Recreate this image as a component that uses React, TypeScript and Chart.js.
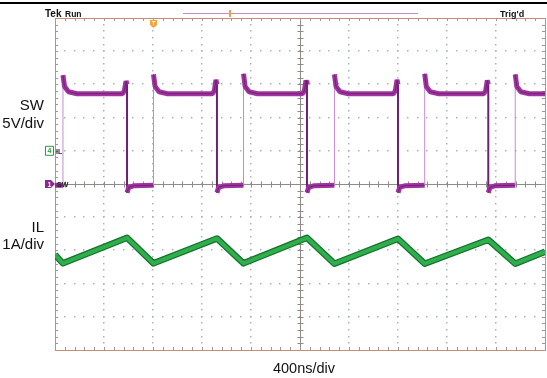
import React, { useEffect, useRef } from 'react';
import { Chart, registerables } from 'chart.js';

Chart.register(...registerables);

// Time axis: 400 ns/div, 10 divisions, centred on trigger (ns)
const timeMin = -2000;
const timeMax = 2000;

// SW (channel 1), 5 V/div, ground at screen centre
const swTimes = [
  -2000,
  -1935, -1935, -1922, -1890, -1820, -1450, -1434, -1420, -1412, -1412, -1398, -1352,
  -1196, -1196, -1183, -1151, -1081, -716, -700, -686, -678, -678, -664, -618,
  -461, -461, -448, -416, -346, 19, 35, 49, 57, 57, 71, 117,
  281, 281, 294, 326, 396, 762, 778, 792, 800, 800, 814, 860,
  1018, 1018, 1031, 1063, 1133, 1499, 1515, 1529, 1537, 1537, 1551, 1597,
  1757, 1757, 1770, 1802, 1872, 2000,
];
const swVolts = [
  -0.2,
  -0.2, 16.4, 14.7, 13.9, 13.6, 13.6, 14.0, 15.5, 15.0, -1.3, -0.5, -0.25,
  -0.2, 16.5, 14.7, 13.9, 13.6, 13.6, 14.0, 15.7, 15.0, -1.3, -0.5, -0.25,
  -0.2, 16.6, 14.7, 13.9, 13.6, 13.6, 14.0, 15.6, 15.0, -1.3, -0.5, -0.25,
  -0.2, 16.5, 14.7, 13.9, 13.6, 13.6, 14.0, 15.7, 15.0, -1.3, -0.5, -0.25,
  -0.2, 16.6, 14.7, 13.9, 13.6, 13.6, 14.0, 15.6, 15.0, -1.3, -0.5, -0.25,
  -0.2, 16.5, 14.7, 13.9, 13.6, 13.6,
];

// IL (channel 4), 1 A/div, ground marker one division above centre
const ilTimes = [-2000, -1935, -1412, -1196, -678, -461, 57, 281, 800, 1018, 1537, 1757, 2000];
const ilAmps = [-3.13, -3.39, -2.62, -3.39, -2.64, -3.39, -2.62, -3.40, -2.65, -3.40, -2.68, -3.40, -3.04];

const textFont = '"Liberation Sans", Arial, sans-serif';

const scopePlugin = {
  id: 'scope',
  beforeDatasetsDraw(chart: any) {
    const ctx = chart.ctx as CanvasRenderingContext2D;
    const { left, right, top, bottom } = chart.chartArea;
    const dx = (right - left) / 10;
    const dy = (bottom - top) / 10;
    const cx = left + 5 * dx;
    const cy = top + 5 * dy;
    ctx.save();
    // dotted grid
    ctx.fillStyle = '#aab3bb';
    for (let j = 1; j <= 9; j++) {
      if (j === 5) continue;
      const y = top + j * dy;
      for (let k = 1; k < 50; k++) {
        const x = left + (k * dx) / 5;
        ctx.fillRect(Math.round(x) - 1, Math.round(y) - 1, 1.5, 1.5);
      }
    }
    for (let i = 1; i <= 9; i++) {
      if (i === 5) continue;
      const x = left + i * dx;
      for (let k = 1; k < 50; k++) {
        const y = top + (k * dy) / 5;
        ctx.fillRect(Math.round(x) - 1, Math.round(y) - 1, 1.5, 1.5);
      }
    }
    // centre cross with minor ticks
    ctx.strokeStyle = '#8f8a88';
    ctx.lineWidth = 1;
    ctx.beginPath();
    ctx.moveTo(left, Math.round(cy) + 0.5);
    ctx.lineTo(right, Math.round(cy) + 0.5);
    ctx.moveTo(Math.round(cx) + 0.5, top);
    ctx.lineTo(Math.round(cx) + 0.5, bottom);
    for (let k = 1; k < 50; k++) {
      const x = Math.round(left + (k * dx) / 5) + 0.5;
      ctx.moveTo(x, cy - 2.5);
      ctx.lineTo(x, cy + 3.5);
      const y = Math.round(top + (k * dy) / 5) + 0.5;
      ctx.moveTo(cx - 2.5, y);
      ctx.lineTo(cx + 3.5, y);
    }
    ctx.stroke();
    // border ticks
    ctx.strokeStyle = '#9a9a9a';
    ctx.beginPath();
    for (let k = 1; k < 50; k++) {
      const x = Math.round(left + (k * dx) / 5) + 0.5;
      ctx.moveTo(x, top);
      ctx.lineTo(x, top + 3);
      ctx.moveTo(x, bottom);
      ctx.lineTo(x, bottom - 3);
      const y = Math.round(top + (k * dy) / 5) + 0.5;
      ctx.moveTo(left, y);
      ctx.lineTo(left + 3, y);
      ctx.moveTo(right, y);
      ctx.lineTo(right - 3, y);
    }
    ctx.stroke();
    // border
    ctx.strokeStyle = '#c98b76';
    ctx.strokeRect(Math.round(left) + 0.5, Math.round(top) + 0.5, Math.round(right - left), Math.round(bottom - top));
    ctx.restore();
  },
  afterDraw(chart: any) {
    const ctx = chart.ctx as CanvasRenderingContext2D;
    const { top, bottom } = chart.chartArea;
    const dy = (bottom - top) / 10;
    const cy = top + 5 * dy;
    ctx.save();
    // top rule
    ctx.fillStyle = '#000';
    ctx.fillRect(0, 2, chart.width, 2);
    // header
    ctx.textBaseline = 'alphabetic';
    ctx.textAlign = 'left';
    ctx.fillStyle = '#111';
    ctx.font = `bold 10px ${textFont}`;
    ctx.fillText('Tek', 45, 17);
    ctx.font = `bold 8.5px ${textFont}`;
    ctx.fillText('Run', 65, 17);
    ctx.font = `bold 9px ${textFont}`;
    ctx.fillText("Trig'd", 500, 17);
    // record view bar
    ctx.strokeStyle = '#c58ac7';
    ctx.lineWidth = 1;
    ctx.beginPath();
    ctx.moveTo(183, 13.5);
    ctx.lineTo(418, 13.5);
    ctx.stroke();
    ctx.fillStyle = '#f0a040';
    ctx.fillRect(229, 10, 2, 7);
    // trigger position marker
    ctx.fillStyle = '#f2a33a';
    ctx.beginPath();
    ctx.moveTo(150, 20);
    ctx.lineTo(157, 20);
    ctx.lineTo(157, 25);
    ctx.lineTo(153.5, 28);
    ctx.lineTo(150, 25);
    ctx.closePath();
    ctx.fill();
    ctx.fillStyle = '#fff';
    ctx.font = `bold 6px ${textFont}`;
    ctx.textAlign = 'center';
    ctx.fillText('T', 153.5, 25);
    // channel 4 marker
    const y4 = cy - dy;
    ctx.fillStyle = '#fff';
    ctx.strokeStyle = '#2a9a46';
    ctx.lineWidth = 1;
    ctx.beginPath();
    ctx.rect(45.5, y4 - 4.5, 8, 9);
    ctx.fill();
    ctx.stroke();
    ctx.fillStyle = '#2a9a46';
    ctx.font = `bold 7px ${textFont}`;
    ctx.fillText('4', 49.5, y4 + 2.5);
    ctx.fillStyle = '#222';
    ctx.textAlign = 'left';
    ctx.font = `bold 7px ${textFont}`;
    ctx.fillText('IL', 56, y4 + 3);
    // channel 1 marker
    ctx.fillStyle = '#8c2a8a';
    ctx.beginPath();
    ctx.moveTo(45, cy - 4);
    ctx.lineTo(51, cy - 4);
    ctx.lineTo(55, cy);
    ctx.lineTo(51, cy + 4);
    ctx.lineTo(45, cy + 4);
    ctx.closePath();
    ctx.fill();
    ctx.fillStyle = '#fff';
    ctx.textAlign = 'center';
    ctx.fillText('1', 49.5, cy + 2.5);
    ctx.fillStyle = '#222';
    ctx.textAlign = 'left';
    ctx.fillText('SW', 57, cy + 3);
    // side labels
    ctx.fillStyle = '#111';
    ctx.font = `15px ${textFont}`;
    ctx.textAlign = 'right';
    ctx.fillText('SW', 44, 110);
    ctx.fillText('5V/div', 44, 128);
    ctx.fillText('IL', 44, 232);
    ctx.fillText('1A/div', 44, 249);
    ctx.textAlign = 'center';
    ctx.font = `14.5px ${textFont}`;
    ctx.fillText('400ns/div', 304, 373);
    ctx.restore();
  },
};

export default function App() {
  const ref = useRef<HTMLCanvasElement>(null);
  useEffect(() => {
    const swData = swTimes.map((t, i) => ({ x: t, y: swVolts[i] }));
    const ilData = ilTimes.map((t, i) => ({ x: t, y: ilAmps[i] }));
    const isVertical = (c: any) => c.p0.parsed.x === c.p1.parsed.x;
    const isRising = (c: any) => c.p1.parsed.y > c.p0.parsed.y;
    const chart = new Chart(ref.current as HTMLCanvasElement, {
      type: 'line',
      data: {
        datasets: [
          {
            label: 'SW detail',
            data: swData,
            yAxisID: 'ySW',
            borderColor: '#6a1c6c',
            borderWidth: 0.8,
            borderJoinStyle: 'bevel',
            pointRadius: 0,
            order: 0,
            segment: {
              borderColor: (c: any) => (isVertical(c) ? 'rgba(0,0,0,0)' : '#6a1c6c'),
            },
          },
          {
            label: 'SW',
            data: swData,
            yAxisID: 'ySW',
            borderColor: '#a0339f',
            borderWidth: 5,
            borderJoinStyle: 'bevel',
            pointRadius: 0,
            order: 1,
            segment: {
              borderWidth: (c: any) => (isVertical(c) ? (isRising(c) ? 1 : 2) : 5),
              borderColor: (c: any) =>
                isVertical(c) ? (isRising(c) ? '#c48ad6' : '#6e2076') : '#a0339f',
            },
          },
          {
            label: 'IL',
            data: ilData,
            yAxisID: 'yIL',
            borderColor: '#2fae4c',
            borderWidth: 4,
            borderJoinStyle: 'round',
            pointRadius: 0,
            order: 2,
          },
          {
            label: 'IL edge',
            data: ilData,
            yAxisID: 'yIL',
            borderColor: '#16702f',
            borderWidth: 6.5,
            borderJoinStyle: 'round',
            pointRadius: 0,
            order: 3,
          },
        ],
      },
      options: {
        animation: false,
        responsive: false,
        events: [],
        layout: { padding: { left: 55, right: 2, top: 18, bottom: 28 } },
        scales: {
          x: { type: 'linear', min: timeMin, max: timeMax, display: false },
          ySW: { type: 'linear', min: -25, max: 25, display: false },
          yIL: { type: 'linear', min: -6, max: 4, display: false },
        },
        plugins: {
          legend: { display: false },
          tooltip: { enabled: false },
        },
      },
      plugins: [scopePlugin],
    } as any);
    return () => chart.destroy();
  }, []);
  return (
    <div style={{ position: 'fixed', left: 0, top: 0, width: 547, height: 378, background: '#fff' }}>
      <canvas ref={ref} width={547} height={378} style={{ width: 547, height: 378, display: 'block' }} />
    </div>
  );
}
